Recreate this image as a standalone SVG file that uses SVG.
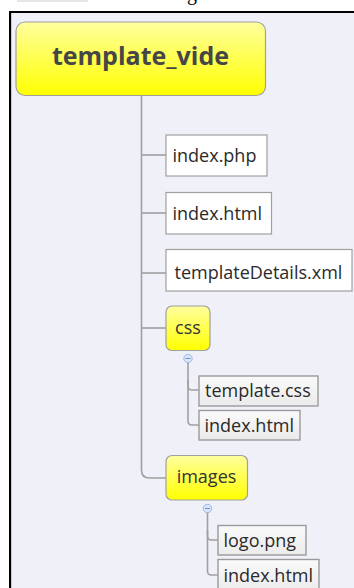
<svg xmlns="http://www.w3.org/2000/svg" width="354" height="588" viewBox="0 0 354 588">
<defs>
<linearGradient id="yel" x1="0" y1="0" x2="0" y2="1">
<stop offset="0" stop-color="#FFFF9E"/>
<stop offset="1" stop-color="#FFFF00"/>
</linearGradient>
<linearGradient id="gry" x1="0" y1="0" x2="0" y2="1">
<stop offset="0" stop-color="#FAFAFA"/>
<stop offset="1" stop-color="#EBEBEB"/>
</linearGradient>
<style>
.topic{fill:url(#yel);stroke:#A0A0A0;stroke-width:1.2}
.leaf{fill:#FFFFFF;stroke:#A0A0A0;stroke-width:1.2}
.sub{fill:url(#gry);stroke:#9A9A9A;stroke-width:1.4}
.t{font-family:"Open Sans","DejaVu Sans",sans-serif;font-size:18px;fill:#2A2A2A}
.ty{font-family:"Open Sans","DejaVu Sans",sans-serif;font-size:18px;fill:#333333}
.con{fill:none;stroke:#A0A0A0;stroke-width:1.6}
.col{fill:#D8E6FA;stroke:#9CB8E8;stroke-width:1}
</style>
</defs>
<rect x="0" y="0" width="354" height="588" fill="#FFFFFF"/>
<rect x="17" y="0" width="71" height="2" fill="#E6E6E6"/>
<text x="187" y="0" font-family="Liberation Serif,serif" font-size="20" fill="#000000">g</text>
<rect x="10" y="12" width="350" height="580" fill="#F0F1F8" stroke="#000000" stroke-width="2"/>
<line x1="11.5" y1="13" x2="11.5" y2="588" stroke="#C8C8CC" stroke-width="1"/>

<g id="connectors">
<path class="con" d="M141.5 95 V470 Q141.5 478 149.5 478 H166"/>
<line class="con" x1="141.5" y1="155" x2="166" y2="155"/>
<line class="con" x1="141.5" y1="213" x2="166" y2="213"/>
<line class="con" x1="141.5" y1="273" x2="166" y2="273"/>
<line class="con" x1="141.5" y1="328" x2="166" y2="328"/>
<line class="con" x1="188" y1="362" x2="188" y2="382"/>
<path class="con" d="M188 380 V386 Q188 390 192 390 H199"/>
<path class="con" d="M188 382 V421 Q188 425 192 425 H199"/>
<line class="con" x1="207.5" y1="512" x2="207.5" y2="532"/>
<path class="con" d="M207.5 530 V536 Q207.5 540 211.5 540 H218"/>
<path class="con" d="M207.5 532 V571 Q207.5 575 211.5 575 H218"/>
</g>

<g id="root">
<rect class="topic" x="16" y="22" width="249.5" height="73.5" rx="9"/>
<text x="140.5" y="65" text-anchor="middle" font-family="Open Sans,DejaVu Sans,sans-serif" font-weight="bold" font-size="25" fill="#464646">template_vide</text>
</g>

<g id="index-php">
<rect class="leaf" x="166" y="135" width="101" height="41"/>
<text class="t" x="172.5" y="161.5">index.php</text>
</g>

<g id="index-html">
<rect class="leaf" x="166" y="192.5" width="105.5" height="41.5"/>
<text class="t" x="172.5" y="219.5">index.html</text>
</g>

<g id="templateDetails-xml">
<rect class="leaf" x="166" y="249.5" width="186" height="41.5"/>
<text class="t" x="174.5" y="279">templateDetails.xml</text>
</g>

<g id="css">
<rect class="topic" x="166" y="306" width="44" height="44.5" rx="6"/>
<text class="ty" x="188" y="334" text-anchor="middle">css</text>
<circle class="col" cx="188" cy="358.5" r="4.2"/>
<line x1="185.5" y1="358.5" x2="190.5" y2="358.5" stroke="#6F8FC8" stroke-width="1"/>
</g>

<g id="template-css">
<rect class="sub" x="199" y="376" width="119" height="30"/>
<text class="t" x="205" y="397">template.css</text>
</g>

<g id="css-index-html">
<rect class="sub" x="199" y="410.5" width="101" height="29.5"/>
<text class="t" x="204.5" y="432">index.html</text>
</g>

<g id="images">
<rect class="topic" x="166" y="455.5" width="81.5" height="44.5" rx="6"/>
<text class="ty" x="206.5" y="483" text-anchor="middle">images</text>
<circle class="col" cx="207.5" cy="508.5" r="4.2"/>
<line x1="205" y1="508.5" x2="210" y2="508.5" stroke="#6F8FC8" stroke-width="1"/>
</g>

<g id="logo-png">
<rect class="sub" x="218" y="525.5" width="88" height="29.5"/>
<text class="t" x="223.5" y="547">logo.png</text>
</g>

<g id="images-index-html">
<rect class="sub" x="218" y="559.5" width="101" height="32"/>
<text class="t" x="223.5" y="581.5">index.html</text>
</g>
</svg>
